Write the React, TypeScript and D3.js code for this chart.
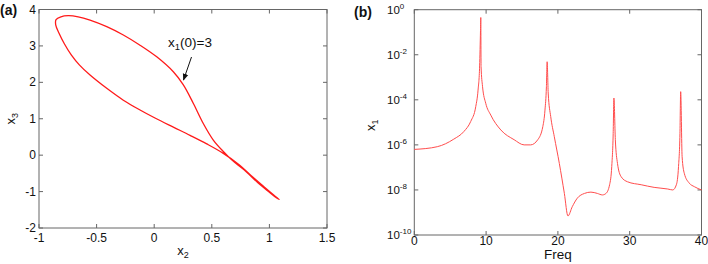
import React from "react";
import * as d3 from "d3";

// Panel (a): phase portrait x2 vs x3 (closed orbit)
const x2Values = [
  1.085, 1.04, 0.95, 0.84, 0.74, 0.6, 0.456, 0.311, 0.166, 0.007, -0.123, -0.268,
  -0.412, -0.557, -0.65, -0.72, -0.78, -0.826, -0.855, -0.852, -0.81, -0.746, -0.66,
  -0.557, -0.412, -0.268, -0.123, 0.022, 0.166, 0.253, 0.34, 0.426, 0.513, 0.6,
  0.68, 0.78, 0.9, 1.0, 1.06,
];
const x3Values = [
  -1.215, -1.1, -0.86, -0.56, -0.27, 0.05, 0.31, 0.545, 0.77, 1.02, 1.24, 1.51,
  1.835, 2.2, 2.48, 2.755, 3.06, 3.35, 3.58, 3.72, 3.8, 3.83, 3.8, 3.71, 3.53, 3.3,
  3.02, 2.7, 2.29, 1.93, 1.42, 0.87, 0.415, 0.1, -0.15, -0.4, -0.76, -1.02, -1.17,
];
const aXTicks = [-1, -0.5, 0, 0.5, 1, 1.5];
const aYTicks = [-2, -1, 0, 1, 2, 3, 4];

// Panel (b): spectrum of x1
const freq = [
  0, 3.2, 5.5, 6.9, 7.86, 8.56, 8.88, 9.1, 9.22, 9.26, 9.3, 9.5, 9.95, 10.65, 12.05,
  13.9, 15.3, 16.2, 17.2, 17.9, 18.2, 18.4, 18.5, 18.65, 19.0, 19.5, 20.2, 20.9,
  21.4, 22.0, 22.7, 23.7, 24.6, 25.5, 26.2, 26.7, 27.2, 27.5, 27.7, 27.8, 28.0,
  28.3, 28.8, 29.7, 31.6, 33.4, 35.3, 36.0, 36.5, 36.8, 37.0, 37.1, 37.3, 37.6,
  38.3, 39.0, 40,
];
const amp = [
  6.3e-7, 8.3e-7, 1.8e-6, 3.9e-6, 1.1e-5, 5e-5, 2.7e-4, 3.2e-3, 1.2e-1, 4.5e-1,
  3e-3, 4e-4, 7e-5, 2.1e-5, 4.6e-6, 1.7e-6, 1e-6, 1e-6, 1.7e-6, 6.5e-6, 3.5e-5,
  3.8e-4, 4.9e-3, 2e-4, 1.8e-5, 2.3e-6, 1.5e-7, 7e-9, 7e-10, 1.8e-9, 4.3e-9,
  7e-9, 8e-9, 7e-9, 6e-9, 7e-9, 1.7e-8, 1.1e-7, 3.2e-6, 1.2e-4, 1.7e-6, 1.5e-7,
  3.9e-8, 2.3e-8, 1.7e-8, 1.3e-8, 1.1e-8, 1e-8, 1.7e-8, 1.1e-7, 3.2e-6, 2.3e-4,
  3e-7, 5.5e-8, 2e-8, 1.4e-8, 1e-8,
];
const bXTicks = [0, 10, 20, 30, 40];
const bYExps = [0, -2, -4, -6, -8, -10];

const FONT = "'Liberation Sans', Arial, Helvetica, sans-serif";
const AXIS = "#666";
const TXT = "#111";

export default function App() {
  const xA = d3.scaleLinear().domain([-1, 1.5]).range([39, 327]);
  const yA = d3.scaleLinear().domain([-2, 4]).range([228, 9.5]);
  const xB = d3.scaleLinear().domain([0, 40]).range([414.3, 701.5]);
  const yB = d3.scaleLog().domain([1e-10, 1]).range([235, 9.7]);

  const ptsA: [number, number][] = x2Values.map((v, i) => [v, x3Values[i]]);
  const lineA = d3
    .line<[number, number]>()
    .x((d) => xA(d[0]))
    .y((d) => yA(d[1]))
    .curve(d3.curveCatmullRomClosed.alpha(0.5));

  const ptsB: [number, number][] = freq.map((f, i) => [f, amp[i]]);
  const lineB = d3
    .line<[number, number]>()
    .x((d) => xB(d[0]))
    .y((d) => yB(d[1]))
    .curve(d3.curveMonotoneX);

  const TL = 4;
  const [ax0, ax1] = xA.range();
  const [ay0, ay1] = yA.range();
  const [bx0, bx1] = xB.range();
  const [by0, by1] = yB.range();

  return (
    <div style={{ position: "fixed", left: 0, top: 0 }}>
      <svg width={708} height={264} style={{ display: "block", fontFamily: FONT }}>
        <rect width={708} height={264} fill="#fff" />

        {/* ---------- Panel (a) ---------- */}
        <text x={0} y={15} fontSize={14} fontWeight="bold" fill={TXT}>(a)</text>
        <rect x={ax0} y={ay1} width={ax1 - ax0} height={ay0 - ay1} fill="none" stroke={AXIS} strokeWidth={1} />
        {aXTicks.map((t) => (
          <g key={"ax" + t}>
            <line x1={xA(t)} x2={xA(t)} y1={ay0} y2={ay0 - TL} stroke={AXIS} />
            <line x1={xA(t)} x2={xA(t)} y1={ay1} y2={ay1 + TL} stroke={AXIS} />
            <text x={xA(t)} y={ay0 + 14} fontSize={12} textAnchor="middle" fill={TXT}>{String(t)}</text>
          </g>
        ))}
        {aYTicks.map((t) => (
          <g key={"ay" + t}>
            <line x1={ax0} x2={ax0 + TL} y1={yA(t)} y2={yA(t)} stroke={AXIS} />
            <line x1={ax1} x2={ax1 - TL} y1={yA(t)} y2={yA(t)} stroke={AXIS} />
            <text x={ax0 - 3} y={yA(t) + 4} fontSize={12} textAnchor="end" fill={TXT}>{String(t)}</text>
          </g>
        ))}
        <text x={(ax0 + ax1) / 2} y={255} fontSize={13} textAnchor="middle" fill={TXT}>
          x<tspan fontSize={9} dy={3}>2</tspan>
        </text>
        <text transform={`translate(15,${(ay0 + ay1) / 2}) rotate(-90)`} fontSize={13} textAnchor="middle" fill={TXT}>
          x<tspan fontSize={9} dy={3}>3</tspan>
        </text>
        <path d={lineA(ptsA) || ""} fill="none" stroke="#ff1a1a" strokeWidth={1.3} />
        <text x={168} y={46.5} fontSize={13.5} fill={TXT}>
          x<tspan fontSize={9.5} dy={3}>1</tspan>
          <tspan dy={-3}>(0)=3</tspan>
        </text>
        <defs>
          <marker id="arr" viewBox="0 0 10 10" refX={9} refY={5} markerWidth={7} markerHeight={7} orient="auto" markerUnits="userSpaceOnUse">
            <path d="M0,1 L10,5 L0,9 Z" fill="#111" />
          </marker>
        </defs>
        <line x1={191.5} y1={57} x2={183.5} y2={80} stroke="#111" strokeWidth={1} markerEnd="url(#arr)" />

        {/* ---------- Panel (b) ---------- */}
        <text x={354} y={17} fontSize={14} fontWeight="bold" fill={TXT}>(b)</text>
        <rect x={bx0} y={by1} width={bx1 - bx0} height={by0 - by1} fill="none" stroke={AXIS} strokeWidth={1} />
        {bXTicks.map((t) => (
          <g key={"bx" + t}>
            <line x1={xB(t)} x2={xB(t)} y1={by0} y2={by0 - TL} stroke={AXIS} />
            <line x1={xB(t)} x2={xB(t)} y1={by1} y2={by1 + TL} stroke={AXIS} />
            <text x={xB(t)} y={by0 + 9.5} fontSize={12} textAnchor="middle" fill={TXT}>{String(t)}</text>
          </g>
        ))}
        {bYExps.map((e) => (
          <g key={"by" + e}>
            <line x1={bx0} x2={bx0 + TL} y1={yB(Math.pow(10, e))} y2={yB(Math.pow(10, e))} stroke={AXIS} />
            <line x1={bx1} x2={bx1 - TL} y1={yB(Math.pow(10, e))} y2={yB(Math.pow(10, e))} stroke={AXIS} />
            <text x={387} y={yB(Math.pow(10, e)) + 4} fontSize={11.5} fill={TXT}>
              10<tspan fontSize={8} dy={-5}>{String(e)}</tspan>
            </text>
          </g>
        ))}
        <text x={(bx0 + bx1) / 2} y={259} fontSize={13.5} textAnchor="middle" fill={TXT}>Freq</text>
        <text transform={`translate(375,${(by0 + by1) / 2 + 3}) rotate(-90)`} fontSize={13} textAnchor="middle" fill={TXT}>
          x<tspan fontSize={9} dy={3}>1</tspan>
        </text>
        <path d={lineB(ptsB) || ""} fill="none" stroke="#ff4d4d" strokeWidth={1} />
      </svg>
    </div>
  );
}
